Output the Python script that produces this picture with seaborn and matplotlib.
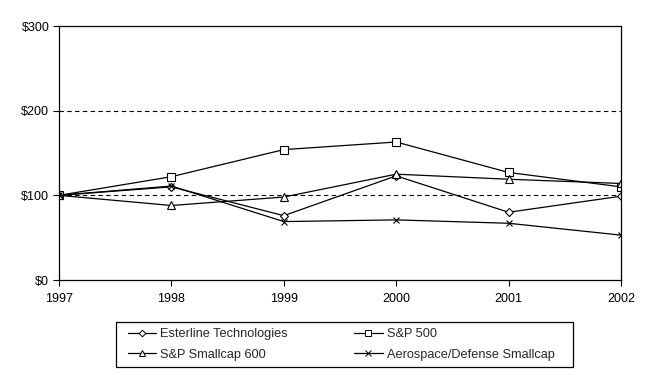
import matplotlib
matplotlib.use("Agg")
import matplotlib.pyplot as plt
import seaborn as sns
import pandas as pd
from matplotlib.lines import Line2D
from matplotlib.patches import Rectangle

years = [1997, 1998, 1999, 2000, 2001, 2002]
esterline = [100, 110, 76, 123, 80, 99]
sp500 = [100, 122, 154, 163, 127, 110]
smallcap600 = [100, 88, 98, 125, 119, 114]
aerospace = [100, 111, 69, 71, 67, 53]
series_names = ["Esterline Technologies", "S&P 500", "S&P Smallcap 600", "Aerospace/Defense Smallcap"]
y_ticks = [0, 100, 200, 300]
y_labels = ["$0", "$100", "$200", "$300"]

sns.set_style("white")
plt.rcParams["font.family"] = ["Liberation Sans", "DejaVu Sans"]

df = pd.DataFrame({
    "year": years * 4,
    "value": esterline + sp500 + smallcap600 + aerospace,
    "series": sum([[n] * len(years) for n in series_names], []),
})

W, H = 652, 375
fig = plt.figure(figsize=(W / 100, H / 100), dpi=100)
ax = fig.add_axes([59 / W, 1 - 280 / H, (621 - 59) / W, (280 - 26) / H])

markers = {"Esterline Technologies": "D", "S&P 500": "s",
           "S&P Smallcap 600": "^", "Aerospace/Defense Smallcap": "x"}
msizes = {"D": 4.5, "s": 5.5, "^": 6, "x": 5}
handles = {}
for name in series_names:
    m = markers[name]
    sub = df[df["series"] == name]
    sns.lineplot(data=sub, x="year", y="value", ax=ax, color="black", lw=0.9,
                 marker=m, markersize=msizes[m], markerfacecolor="white",
                 markeredgecolor="black", markeredgewidth=0.8, legend=False)
    handles[name] = Line2D([0], [0], color="black", lw=0.9, marker=m,
                           markersize=msizes[m] * 0.75, markerfacecolor="white",
                           markeredgecolor="black", markeredgewidth=0.7, label=name)

for yv in [100, 200]:
    ax.axhline(yv, color="black", lw=0.8, ls=(0, (4, 3)), zorder=0)

ax.set_xlim(1997, 2002)
ax.set_ylim(0, 300)
ax.set_xticks(years)
ax.set_xticklabels([str(y) for y in years])
ax.set_yticks(y_ticks)
ax.set_yticklabels(y_labels)
ax.set_xlabel("")
ax.set_ylabel("")
ax.tick_params(direction="out", length=4, width=0.8, labelsize=9, colors="black")
ax.tick_params(axis="x", pad=5)
ax.tick_params(axis="y", pad=3)
ax.xaxis.set_ticks_position("bottom")
ax.yaxis.set_ticks_position("left")
for s in ax.spines.values():
    s.set_color("black")
    s.set_linewidth(0.9)

# legend frame
fig.add_artist(Rectangle((116 / W, 1 - 367 / H), (573 - 116) / W, (367 - 322) / H,
                         transform=fig.transFigure, fill=False, edgecolor="black",
                         linewidth=0.9))

order = ["Esterline Technologies", "S&P Smallcap 600", "S&P 500", "Aerospace/Defense Smallcap"]
leg = fig.legend(handles=[handles[n] for n in order], ncol=2, loc="upper left",
                 bbox_to_anchor=(128 / W, 1 - 328 / H), fontsize=9.2,
                 frameon=False, handlelength=2.2, handletextpad=0.33,
                 columnspacing=5.2, borderpad=0, labelspacing=0.69, borderaxespad=0)

fig.savefig("out.png", dpi=100)
